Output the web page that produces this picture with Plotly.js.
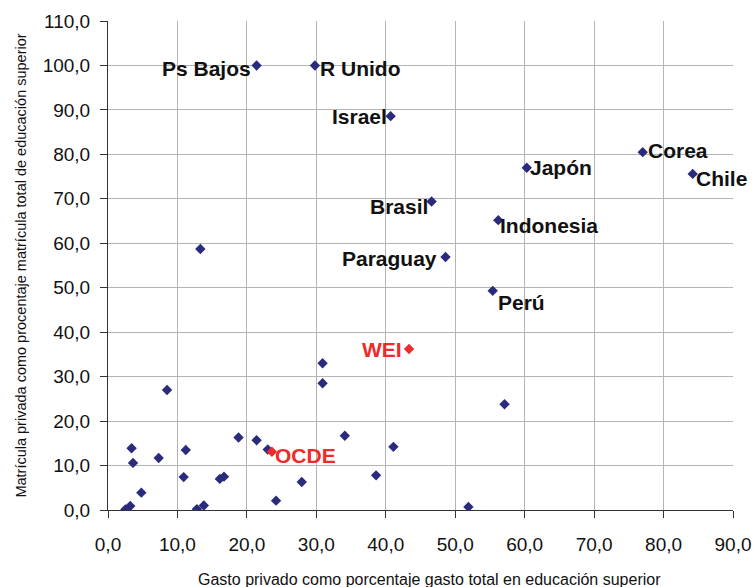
<!DOCTYPE html>
<html>
<head>
<meta charset="utf-8">
<script src="https://cdn.plot.ly/plotly-3.0.1.min.js"></script>
<style>html,body{margin:0;padding:0;background:#fff;}#chart{width:755px;height:587px;}</style>
</head>
<body>
<div id="chart"></div>
<script>
// Labeled countries
var countryNames = ["Ps Bajos", "R Unido", "Israel", "Corea", "Japón", "Chile", "Brasil", "Indonesia", "Paraguay", "Perú"];
var countryX = [21.4, 29.8, 40.7, 77.0, 60.3, 84.2, 46.6, 56.2, 48.6, 55.4];
var countryY = [100.0, 100.0, 88.6, 80.5, 77.0, 75.6, 69.4, 65.2, 56.9, 49.3];

// Unlabeled countries
var otherX = [2.5, 3.2, 3.4, 3.6, 4.8, 7.3, 8.5, 10.9, 11.2, 12.8, 13.8, 13.3, 16.1, 16.7, 18.8, 21.4, 23.0, 24.2, 27.9, 30.9, 30.9, 34.1, 38.6, 41.1, 51.9, 57.1];
var otherY = [0.1, 0.9, 13.9, 10.6, 3.9, 11.7, 27.0, 7.4, 13.5, 0.2, 1.0, 58.7, 7.0, 7.5, 16.3, 15.7, 13.6, 2.1, 6.3, 33.0, 28.5, 16.7, 7.8, 14.2, 0.7, 23.8];

// Averages
var avgNames = ["WEI", "OCDE"];
var avgX = [43.35, 23.6];
var avgY = [36.2, 13.1];

// Tick values
var xTicks = [0, 10, 20, 30, 40, 50, 60, 70, 80, 90];
var yTicks = [0, 10, 20, 30, 40, 50, 60, 70, 80, 90, 100, 110];

// Axis titles
var xTitle = "Gasto privado como porcentaje gasto total en educación superior";
var yTitle = "Matrícula privada como procentaje matrícula total de educación superior";

// Label placement styles (side, xshift, yshift)
var labelStyle = {
  "Ps Bajos": ["right", -5, -3],
  "R Unido": ["left", 4, -3],
  "Israel": ["right", -3, 0],
  "Corea": ["left", 4, 2],
  "Japón": ["left", 2, 0],
  "Chile": ["left", 2, -5],
  "Brasil": ["right", -3, -5],
  "Indonesia": ["left", 1, -5],
  "Paraguay": ["right", -8, -1],
  "Perú": ["left", 4, -12],
  "WEI": ["right", -6, 0],
  "OCDE": ["left", 2, -4]
};

var navy = "#2b2b7d";
var red = "#ee2a2a";

var traces = [
  {x: otherX, y: otherY, type: "scatter", mode: "markers",
   marker: {symbol: "diamond", size: 8, color: navy}, hoverinfo: "x+y"},
  {x: countryX, y: countryY, text: countryNames, type: "scatter", mode: "markers",
   marker: {symbol: "diamond", size: 8, color: navy}, hoverinfo: "text+x+y"},
  {x: avgX, y: avgY, text: avgNames, type: "scatter", mode: "markers",
   marker: {symbol: "diamond", size: 8, color: red}, hoverinfo: "text+x+y"}
];

var annotations = [];
function addLabels(names, xs, ys, color) {
  for (var i = 0; i < names.length; i++) {
    var st = labelStyle[names[i]];
    annotations.push({
      x: xs[i], y: ys[i], xref: "x", yref: "y", text: names[i], showarrow: false,
      xanchor: st[0], yanchor: "middle", xshift: st[1], yshift: st[2],
      borderpad: 0,
      font: {family: "Liberation Sans, Arial, sans-serif", size: 21, color: color, weight: "bold"}
    });
  }
}
addLabels(countryNames, countryX, countryY, "#111111");
addLabels(avgNames, avgX, avgY, red);

annotations.push({
  xref: "paper", yref: "paper", x: 0.515, y: -0.142, xanchor: "center", yanchor: "middle",
  text: xTitle, showarrow: false, font: {size: 16, color: "#111111"}
});

var layout = {
  width: 755, height: 587,
  margin: {l: 108, r: 22, t: 21, b: 77},
  paper_bgcolor: "#ffffff", plot_bgcolor: "#ffffff",
  showlegend: false,
  separators: ", ",
  font: {family: "Liberation Sans, Arial, sans-serif", color: "#111111"},
  xaxis: {
    range: [0, 90], tickvals: xTicks, tickformat: ".1f",
    showgrid: true, gridcolor: "#b4b4b4", gridwidth: 1,
    zeroline: false, showline: true, linecolor: "#333333", linewidth: 1,
    ticks: "outside", ticklen: 7, tickcolor: "#333333", ticklabelstandoff: 10,
    tickfont: {size: 19, color: "#111111"},
    fixedrange: true
  },
  yaxis: {
    range: [0, 110], tickvals: yTicks, tickformat: ".1f",
    showgrid: true, gridcolor: "#b4b4b4", gridwidth: 1,
    zeroline: false, showline: true, linecolor: "#333333", linewidth: 1,
    ticks: "outside", ticklen: 7, tickcolor: "#333333", ticklabelstandoff: 6,
    tickfont: {size: 19, color: "#111111"},
    title: {text: yTitle, font: {size: 14.5, color: "#111111"}, standoff: 12},
    fixedrange: true
  },
  annotations: annotations
};

Plotly.newPlot("chart", traces, layout, {displayModeBar: false, staticPlot: true});
</script>
</body>
</html>
